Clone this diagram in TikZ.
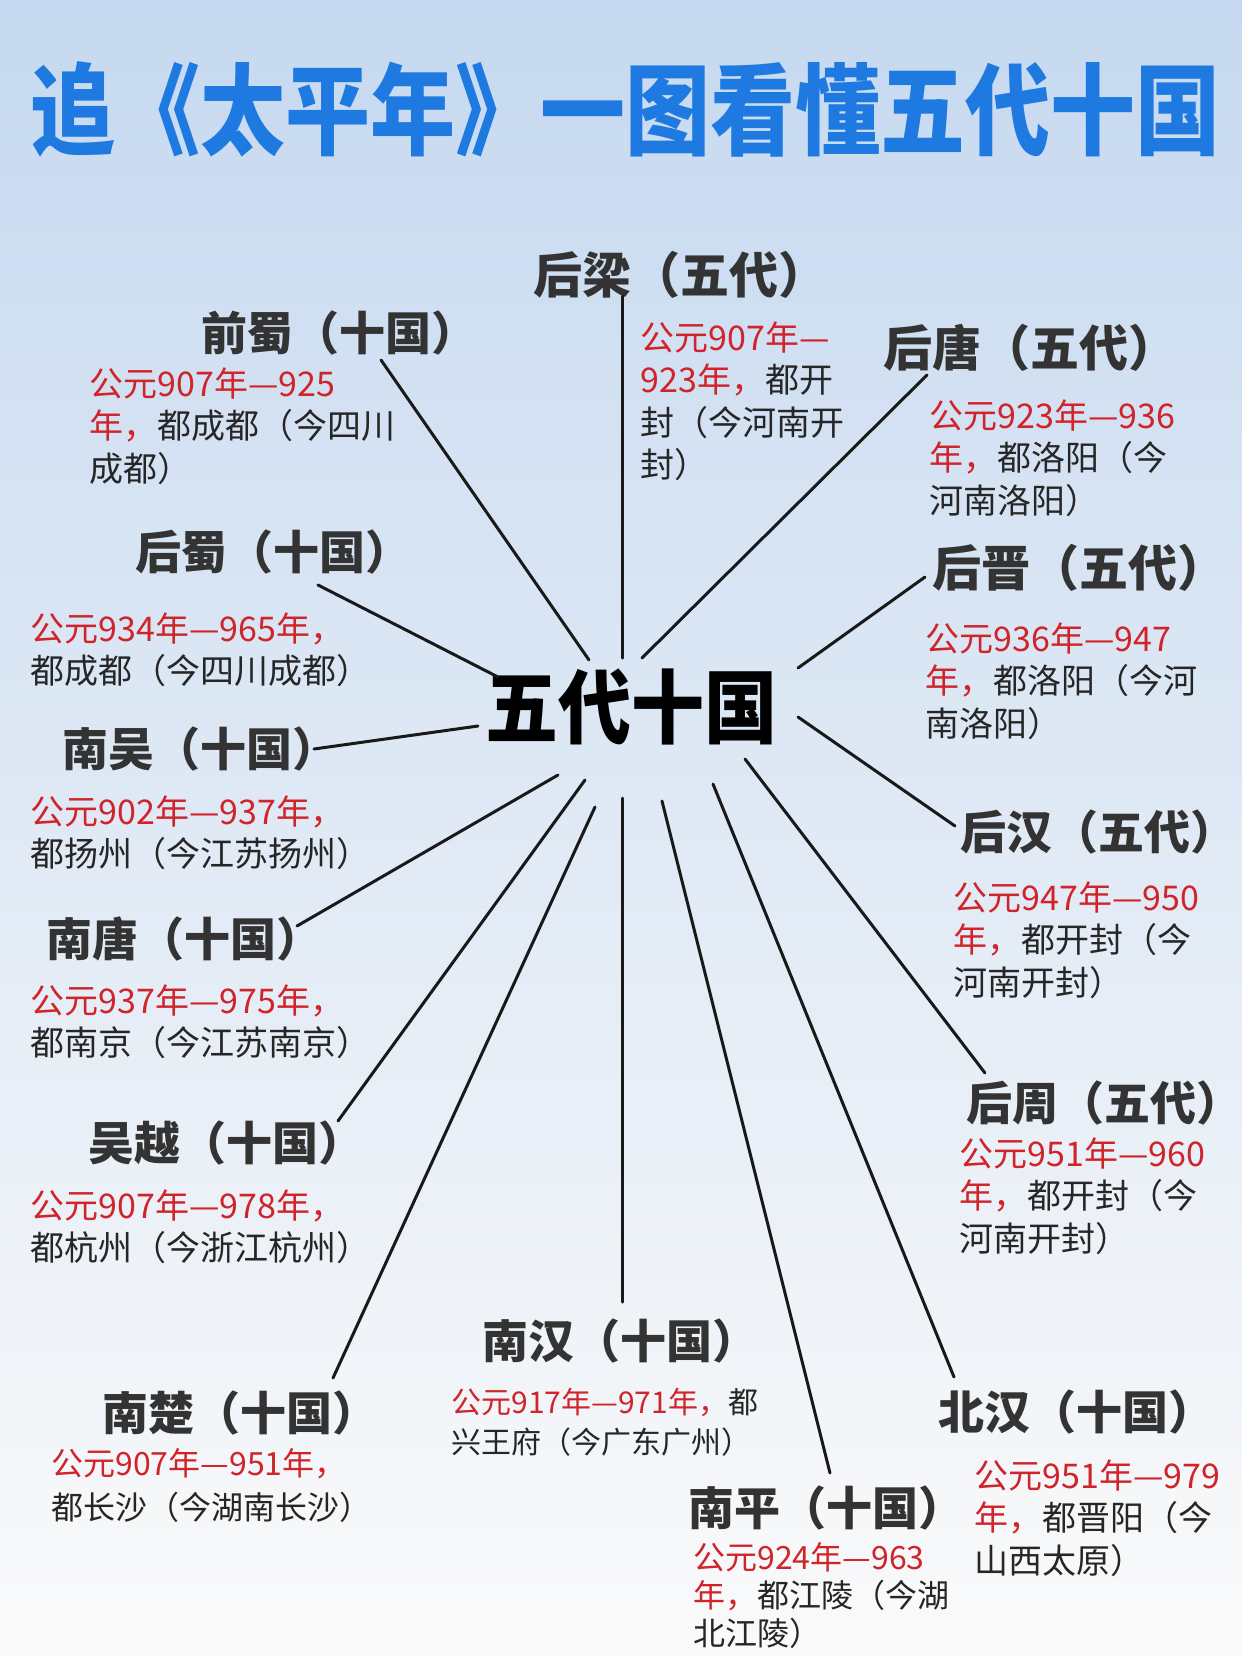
\documentclass[tikz,border=0pt]{standalone}
\usepackage{fontspec}
\setmainfont{Noto Sans CJK SC}
\usepackage{graphicx}
\definecolor{tblue}{RGB}{30,122,225}
\definecolor{cred}{RGB}{208,35,42}
\definecolor{cgray}{RGB}{51,51,51}
\definecolor{bgtop}{RGB}{198,217,240}
\definecolor{bgmid}{RGB}{226,234,246}
\definecolor{bgbot}{RGB}{250,250,250}
\newcommand\hl[1]{\textcolor{cred}{#1}}
\tikzset{
  kingdom/.style={anchor=west,inner sep=0pt,text=cgray,font=\fontsize{23}{23}\selectfont\bfseries},
  note/.style={anchor=north west,inner sep=0pt,align=left,text=black!85,font=\fontsize{17}{21.25}\selectfont},
  spoke/.style={line width=1.5pt,black!90,line cap=round}
}

\begin{document}
\begin{tikzpicture}[x=0.5pt,y=-0.5pt]
    \shade[top color=bgtop,middle color=bgmid,bottom color=bgbot] (0,0) rectangle (1242,1656);
    \useasboundingbox (0,0) rectangle (1242,1656);
    \node[text=tblue,font=\fontsize{42.5}{42.5}\selectfont\bfseries] (title) at (626,109)
      {\scalebox{1}[1.17]{追《太平年》一图看懂五代十国}};
    \node[font=\fontsize{36.5}{36.5}\selectfont\bfseries] (hub) at (631,707)
      {\scalebox{1}[1.1]{五代十国}};
    % five dynasties
    \node[kingdom,font=\fontsize{24.5}{24.5}\selectfont\bfseries] (hl) at (533,275) {后梁（五代）};
    \node[note] (hl-t) at (640,321) {\hl{公元907年—}\\\hl{923年，}都开\\封（今河南开\\封）};
    \node[kingdom,font=\fontsize{24.5}{24.5}\selectfont\bfseries] (ht) at (883,348) {后唐（五代）};
    \node[note] (ht-t) at (929,399) {\hl{公元923年—936}\\\hl{年，}都洛阳（今\\河南洛阳）};
    \node[kingdom,font=\fontsize{24.5}{24.5}\selectfont\bfseries] (hj) at (932,568) {后晋（五代）};
    \node[note] (hj-t) at (925,622) {\hl{公元936年—947}\\\hl{年，}都洛阳（今河\\南洛阳）};
    \node[kingdom] (hh) at (960,832) {后汉（五代）};
    \node[note] (hh-t) at (953,881) {\hl{公元947年—950}\\\hl{年，}都开封（今\\河南开封）};
    \node[kingdom] (hz) at (966,1103) {后周（五代）};
    \node[note] (hz-t) at (959,1137) {\hl{公元951年—960}\\\hl{年，}都开封（今\\河南开封）};
    % ten kingdoms
    \node[kingdom] (qs) at (201,333) {前蜀（十国）};
    \node[note] (qs-t) at (89,367) {\hl{公元907年—925}\\\hl{年，}都成都（今四川\\成都）};
    \node[kingdom] (hs) at (135,552) {后蜀（十国）};
    \node[note] (hs-t) at (30,612) {\hl{公元934年—965年，}\\都成都（今四川成都）};
    \node[kingdom] (nw) at (62,749) {南吴（十国）};
    \node[note] (nw-t) at (30,795) {\hl{公元902年—937年，}\\都扬州（今江苏扬州）};
    \node[kingdom] (nt) at (46,939) {南唐（十国）};
    \node[note] (nt-t) at (30,984) {\hl{公元937年—975年，}\\都南京（今江苏南京）};
    \node[kingdom] (wy) at (88,1143) {吴越（十国）};
    \node[note] (wy-t) at (30,1189) {\hl{公元907年—978年，}\\都杭州（今浙江杭州）};
    \node[kingdom] (nc) at (102,1413) {南楚（十国）};
    \node[note,font=\fontsize{16}{22}\selectfont] (nc-t) at (51,1448) {\hl{公元907年—951年，}\\都长沙（今湖南长沙）};
    \node[kingdom] (nh) at (482,1341) {南汉（十国）};
    \node[note,font=\fontsize{15}{20}\selectfont] (nh-t) at (451,1388) {\hl{公元917年—971年，}都\\兴王府（今广东广州）};
    \node[kingdom] (np) at (688,1508) {南平（十国）};
    \node[note,font=\fontsize{16}{19}\selectfont] (np-t) at (693,1542) {\hl{公元924年—963}\\\hl{年，}都江陵（今湖\\北江陵）};
    \node[kingdom] (bh) at (938,1412) {北汉（十国）};
    \node[note] (bh-t) at (974,1459) {\hl{公元951年—979}\\\hl{年，}都晋阳（今\\山西太原）};
    % spoke ends
    \coordinate (hl-o) at (622,296);  \coordinate (hl-i) at (622,658);
    \coordinate (qs-o) at (381,360);  \coordinate (qs-i) at (589,660);
    \coordinate (ht-o) at (927,375);  \coordinate (ht-i) at (642,658);
    \coordinate (hs-o) at (318,585);  \coordinate (hs-i) at (498,677);
    \coordinate (hj-o) at (925,577);  \coordinate (hj-i) at (798,668);
    \coordinate (nw-o) at (314,749);  \coordinate (nw-i) at (478,726);
    \coordinate (hh-o) at (955,826);  \coordinate (hh-i) at (798,717);
    \coordinate (nt-o) at (297,926);  \coordinate (nt-i) at (558,775);
    \coordinate (hz-o) at (985,1073); \coordinate (hz-i) at (745,759);
    \coordinate (wy-o) at (338,1121); \coordinate (wy-i) at (585,780);
    \coordinate (nc-o) at (333,1378); \coordinate (nc-i) at (595,807);
    \coordinate (nh-o) at (622,1302); \coordinate (nh-i) at (622,798);
    \coordinate (np-o) at (830,1473); \coordinate (np-i) at (662,801);
    \coordinate (bh-o) at (954,1377); \coordinate (bh-i) at (713,784);
    \foreach \k in {hl,qs,ht,hs,hj,nw,hh,nt,hz,wy,nc,nh,np,bh}
      \draw[spoke] (\k-o) -- (\k-i);
\end{tikzpicture}
\end{document}
